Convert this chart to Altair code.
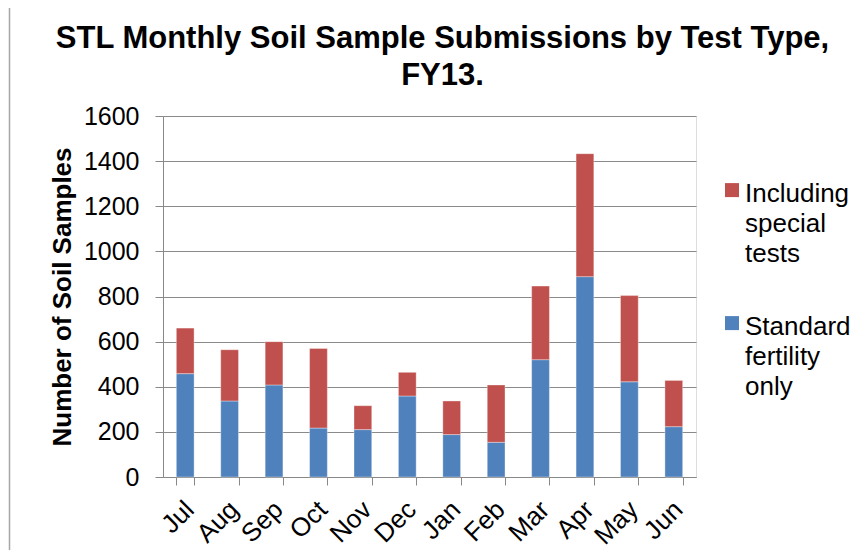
import altair as alt
import pandas as pd

months = ["Jul", "Aug", "Sep", "Oct", "Nov", "Dec", "Jan", "Feb", "Mar", "Apr", "May", "Jun"]
standard = [458, 337, 408, 217, 210, 359, 188, 154, 520, 888, 422, 223]
special = [202, 227, 192, 353, 106, 105, 149, 254, 326, 545, 382, 205]
series = ["Including special tests", "Standard fertility only"]
colors = ["#C0504D", "#4F81BD"]
y_ticks = [0, 200, 400, 600, 800, 1000, 1200, 1400, 1600]

rows = []
for m, s, p in zip(months, standard, special):
    rows.append({"month": m, "series": series[1], "value": s, "order": 0})
    rows.append({"month": m, "series": series[0], "value": p, "order": 1})
df = pd.DataFrame(rows)

FONT = "Liberation Sans"
# square symbol shifted downward so that it lines up with the top of the first label line
SYMBOL = "M-1,0.3 L1,0.3 L1,2.3 L-1,2.3 Z"

bars = alt.Chart(df).mark_bar(stroke="#ffffff", strokeWidth=0.6, strokeOpacity=0.6).encode(
    x=alt.X("month:N", sort=months, title=None,
            scale=alt.Scale(paddingInner=0.6, paddingOuter=0.3),
            axis=alt.Axis(labelAngle=-45, labelFontSize=26, labelFont=FONT, labelColor="#000000",
                          tickBand="extent", tickSize=8, tickColor="#888888", domainColor="#888888",
                          labelPadding=11, labelOffset=-5, grid=False)),
    y=alt.Y("value:Q", stack="zero", title="Number of Soil Samples",
            scale=alt.Scale(domain=[0, 1600], nice=False),
            axis=alt.Axis(values=y_ticks, format="d", labelFontSize=25, labelFont=FONT, labelColor="#000000",
                          titleFontSize=26, titleFont=FONT, titleFontWeight="bold", titleColor="#000000",
                          tickSize=8, tickColor="#888888", domainColor="#888888",
                          gridColor="#8a8a8a", gridWidth=1.2, labelPadding=16, titlePadding=8)),
    color=alt.Color("series:N", scale=alt.Scale(domain=series, range=colors), title=None,
                    legend=alt.Legend(orient="none", legendX=556, legendY=52,
                                      labelExpr="datum.label == 'Including special tests' ? ['Including', 'special', 'tests'] : ['Standard', 'fertility', 'only']",
                                      labelFontSize=26, labelFont=FONT, labelColor="#000000",
                                      labelBaseline="top", labelOffset=0,
                                      symbolType=SYMBOL, symbolSize=196, symbolStrokeWidth=0,
                                      rowPadding=34, padding=0)),
    order=alt.Order("order:Q"),
)

frame_df = pd.DataFrame({"edge": ["left"]})
border = alt.Chart(frame_df).mark_rule(color="#a6a6a6", strokeWidth=1.5).encode(
    x=alt.value(-153.5), y=alt.value(-108), y2=alt.value(440)
)

chart = alt.layer(
    bars, border,
    title=alt.TitleParams(["STL Monthly Soil Sample Submissions by Test Type,", "FY13."],
                          font=FONT, fontSize=31, fontWeight="bold", color="#000000",
                          anchor="middle", frame="group", dx=13, offset=-85, lineHeight=37),
).properties(
    width=533, height=361,
    autosize=alt.AutoSizeParams(type="none"),
    padding={"left": 155, "top": 108, "right": 164, "bottom": 73},
).configure_view(stroke=None).configure(style={"guide-label": {"lineHeight": 30}})

chart.save("out.html", embed_options={"renderer": "svg", "actions": False})
